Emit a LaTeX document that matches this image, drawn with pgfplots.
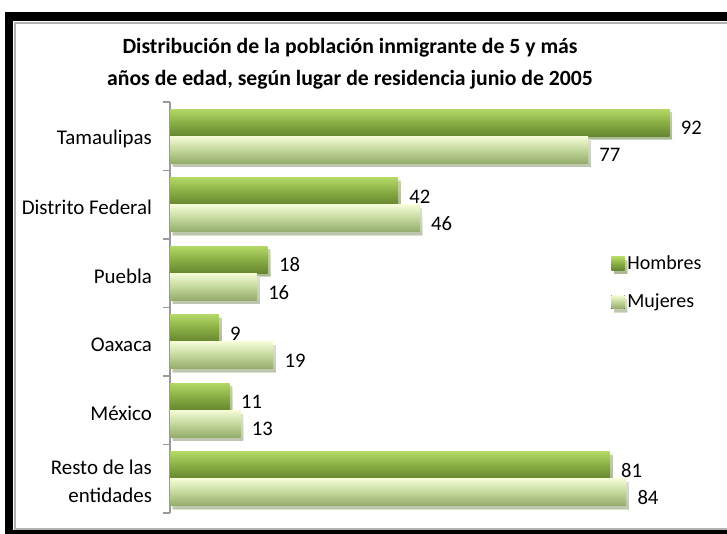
\documentclass[border=0pt]{standalone}
\usepackage{pgfplots}
\pgfplotsset{compat=1.18}
\usepackage{fontspec}
\setmainfont{Carlito}
\usetikzlibrary{shadows}
\definecolor{hTop}{HTML}{B4D866}
\definecolor{hMid}{HTML}{8AAE45}
\definecolor{hBot}{HTML}{66862F}
\definecolor{mTop}{HTML}{F4FBD6}
\definecolor{mMid}{HTML}{C2D79A}
\definecolor{mBot}{HTML}{93AB6A}

\makeatletter
\tikzset{noshadow/.code={\let\tikz@preactions\pgfutil@empty}}
\makeatother

\pgfplotsset{
  hom/.style={draw=none, top color=hTop, bottom color=hBot, middle color=hMid,
    drop shadow={shadow xshift=2pt, shadow yshift=-2.5pt, opacity=0.35},
    legend image code/.code={\fill[top color=hTop, bottom color=hBot, middle color=hMid] (0pt,-5pt) rectangle (10pt,5pt);}},
  muj/.style={draw=none, top color=mTop, bottom color=mBot, middle color=mMid,
    drop shadow={shadow xshift=2pt, shadow yshift=-2.5pt, opacity=0.35},
    legend image code/.code={\fill[top color=mTop, bottom color=mBot, middle color=mMid] (0pt,-5pt) rectangle (10pt,5pt);}},
}

\begin{document}
\begin{tikzpicture}
% frame, in pixels of the reference (1px = 0.75pt)
\begin{scope}[x=0.75pt,y=-0.75pt]
\useasboundingbox (0,0) rectangle (727,533);
\clip (0,0) rectangle (727,533);
\fill[black] (5,12) rectangle (740,545);
\fill[white] (13,21) rectangle (740,530);
\draw[gray!60, line width=1.5pt] (15,23) rectangle (745,529);
\node[align=center, font=\bfseries\fontsize{16.3}{24}\selectfont] at (350,64)
  {Distribución de la población inmigrante de 5 y más\\años de edad, según lugar de residencia junio de 2005};
\end{scope}

\begin{axis}[
    at={(127.5pt,-384.75pt)}, anchor=south west,
    scale only axis, width=407.25pt, height=308.25pt,
    xbar, bar width=20.25pt, bar shift=0pt,
    xmin=0, xmax=100,
    ymin=-0.5, ymax=5.5, y dir=reverse,
    axis x line=none, axis y line=left,
    y axis line style={-, gray!80, line width=0.8pt},
    ytick={0,...,5},
    yticklabels={Tamaulipas, Distrito Federal, Puebla, Oaxaca, México, {Resto de las\\entidades}},
    yticklabel style={align=right, font=\fontsize{15.7}{21}\selectfont, xshift=-10pt, yshift=-2pt},
    major tick length=0pt,
    minor ytick={-0.5,0.5,...,5.5},
    minor tick length=5pt,
    minor tick style={gray!80, line width=0.8pt},
    tick align=outside,
    nodes near coords,
    /pgf/number format/assume math mode=true,
    nodes near coords style={noshadow, font=\fontsize{15.5}{16}\selectfont, black, yshift=-4pt, xshift=5pt},
    legend style={at={(0.805,0.64)}, anchor=north west, draw=none, fill=none,
        font=\fontsize{15}{16}\selectfont, row sep=13pt},
    legend cell align=left,
    clip=false,
]
\addplot[hom] coordinates {(92,-0.2)};
\addlegendentry{Hombres}
\addplot[muj] coordinates {(77,0.2)};
\addlegendentry{Mujeres}
\addplot[hom, forget plot] coordinates {(42,0.8)};
\addplot[muj, forget plot] coordinates {(46,1.2)};
\addplot[hom, forget plot] coordinates {(18,1.8)};
\addplot[muj, forget plot] coordinates {(16,2.2)};
\addplot[hom, forget plot] coordinates {(9,2.8)};
\addplot[muj, forget plot] coordinates {(19,3.2)};
\addplot[hom, forget plot] coordinates {(11,3.8)};
\addplot[muj, forget plot] coordinates {(13,4.2)};
\addplot[hom, forget plot] coordinates {(81,4.8)};
\addplot[muj, forget plot] coordinates {(84,5.2)};
\end{axis}
\end{tikzpicture}
\end{document}
